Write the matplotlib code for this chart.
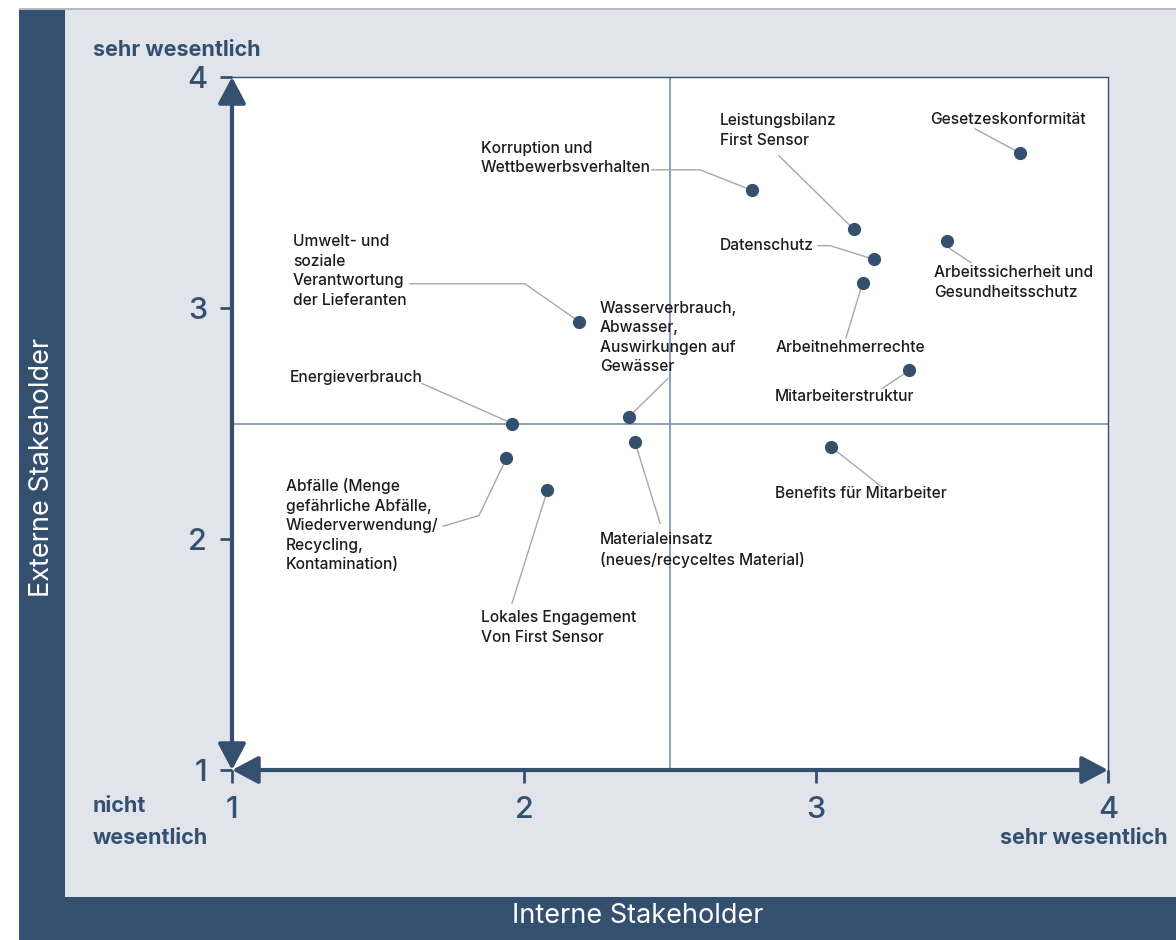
import matplotlib
matplotlib.use('Agg')
import matplotlib.pyplot as plt
from matplotlib.patches import Rectangle

# Daten: Wesentlichkeitsmatrix
themen = ['Gesetzeskonformität', 'Korruption und\nWettbewerbsverhalten', 'Leistungsbilanz\nFirst Sensor',
          'Arbeitssicherheit und\nGesundheitsschutz', 'Datenschutz', 'Arbeitnehmerrechte',
          'Umwelt- und\nsoziale\nVerantwortung\nder Lieferanten', 'Mitarbeiterstruktur', 'Energieverbrauch',
          'Wasserverbrauch,\nAbwasser,\nAuswirkungen auf\nGewässer', 'Materialeinsatz\n(neues/recyceltes Material)',
          'Benefits für Mitarbeiter',
          'Abfälle (Menge\ngefährliche Abfälle,\nWiederverwendung/\nRecycling,\nKontamination)',
          'Lokales Engagement\nVon First Sensor']
intern = [3.70, 2.78, 3.13, 3.45, 3.20, 3.16, 2.19, 3.32, 1.96, 2.36, 2.38, 3.05, 1.94, 2.08]
extern = [3.67, 3.51, 3.34, 3.29, 3.21, 3.11, 2.94, 2.73, 2.50, 2.53, 2.42, 2.40, 2.35, 2.21]
ticks = [1, 2, 3, 4]

# Layout: Position der Beschriftung (links, Mitte) und Knickpunkte der Hinweislinien
text_pos = [(3.390, 3.814), (1.853, 3.650), (2.671, 3.769), (3.404, 3.110), (2.671, 3.270),
            (2.860, 2.829), (1.209, 3.161), (2.860, 2.617), (1.199, 2.699), (2.260, 2.872),
            (2.260, 1.951), (2.860, 2.197), (1.185, 2.059), (1.853, 1.616)]
leader = [[(3.545, 3.775)], [(2.438, 3.598), (2.603, 3.598)], [(2.873, 3.659)],
          [(3.531, 3.196), (3.459, 3.257)], [(3.007, 3.270), (3.048, 3.270)], [(3.103, 2.872)],
          [(1.610, 3.105), (2.003, 3.105)], [(3.226, 2.651)], [(1.651, 2.673)], [(2.493, 2.695)],
          [(2.466, 2.068)], [(3.219, 2.232)], [(1.723, 2.055), (1.846, 2.102)], [(1.959, 1.722)]]

navy = '#35506f'
grau = '#e1e4ea'
W, H = 1176, 940

fig = plt.figure(figsize=(W / 100, H / 100), dpi=100)
fig.patch.set_facecolor('white')

def rect(x0, y0, x1, y1, color):
    # Rechteck in Pixelkoordinaten (y von oben)
    fig.add_artist(Rectangle((x0 / W, 1 - y1 / H), (x1 - x0) / W, (y1 - y0) / H,
                             transform=fig.transFigure, color=color, lw=0, zorder=0))

rect(19, 9, W, 897, grau)
rect(19, 9, 65, H, navy)
rect(19, 897, W, H, navy)
rect(19, 8, W, 10, '#b5b9c0')

fig.text(42 / W, 1 - 467 / H, 'Externe Stakeholder', rotation=90, color='white',
         fontsize=19.5, family='Inter', ha='center', va='center')
fig.text(638 / W, 1 - 916 / H, 'Interne Stakeholder', color='white',
         fontsize=19.5, family='Inter', ha='center', va='center')
fig.text(93 / W, 1 - 50 / H, 'sehr wesentlich', color=navy, fontsize=15.5, fontweight='bold',
         family='Inter', ha='left', va='center')
fig.text(93 / W, 1 - 822 / H, 'nicht\nwesentlich', color=navy, fontsize=15.5, fontweight='bold',
         family='Inter', ha='left', va='center', linespacing=1.75)
fig.text(1168 / W, 1 - 838 / H, 'sehr wesentlich', color=navy, fontsize=15.5, fontweight='bold',
         family='Inter', ha='right', va='center')

ax = fig.add_axes([232 / W, 170 / H, 876 / W, 693 / H])
ax.set_facecolor('white')
ax.set_xlim(1, 4)
ax.set_ylim(1, 4)
for s in ['top', 'right']:
    ax.spines[s].set_color(navy)
    ax.spines[s].set_linewidth(1)
ax.spines['left'].set_visible(False)
ax.spines['bottom'].set_visible(False)

ax.set_xticks(ticks)
ax.set_yticks(ticks)
ax.set_xticklabels([str(t) for t in ticks], fontsize=22, color=navy, family='Inter', fontweight='medium')
ax.set_yticklabels([str(t) for t in ticks], fontsize=22, color=navy, family='Inter', fontweight='medium')
ax.tick_params(axis='x', length=9, width=2, color=navy, pad=10)
ax.tick_params(axis='y', length=9, width=2, color=navy, pad=9)

# Achsen mit Pfeilspitzen
pfeil = dict(arrowstyle='<|-|>,head_length=1.6,head_width=0.85', lw=3, color=navy,
             shrinkA=0, shrinkB=0)
ax.annotate('', xy=(1, 4), xytext=(1, 1), arrowprops=pfeil, annotation_clip=False)
ax.annotate('', xy=(4, 1), xytext=(1, 1), arrowprops=pfeil, annotation_clip=False)

# Mittellinien
ax.axhline(2.5, color='#8797b0', lw=1.3, zorder=1)
ax.axvline(2.5, color='#8797b0', lw=1.3, zorder=1)

for i, name in enumerate(themen):
    pts = leader[i] + [(intern[i], extern[i])]
    ax.plot([p[0] for p in pts], [p[1] for p in pts], color='#a8a8a8', lw=1, zorder=2)
    ax.text(text_pos[i][0], text_pos[i][1], name, fontsize=11.2, family='Inter', fontweight='medium',
            color='#1c1c1c', ha='left', va='center', linespacing=1.38, zorder=4)

ax.plot(intern, extern, 'o', color=navy, ms=8.5, zorder=3)

fig.savefig('out.png', dpi=100)
